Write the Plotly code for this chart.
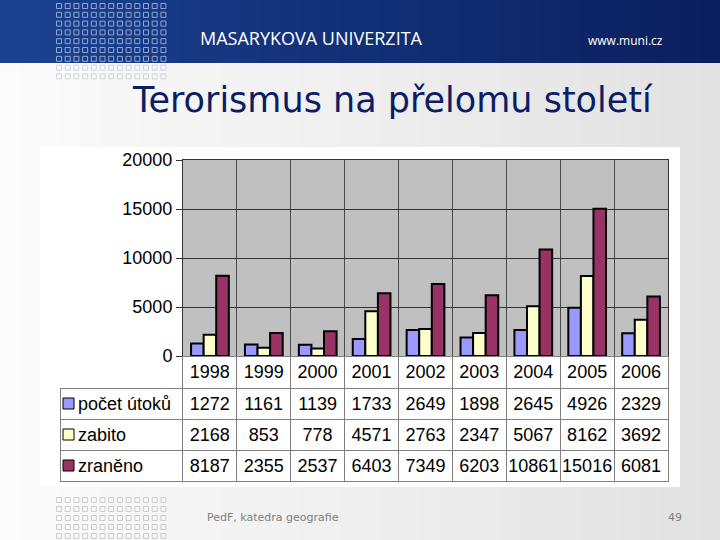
import plotly.graph_objects as go

# ---------------- data ----------------
years = ["1998", "1999", "2000", "2001", "2002", "2003", "2004", "2005", "2006"]
attacks = [1272, 1161, 1139, 1733, 2649, 1898, 2645, 4926, 2329]
killed = [2168, 853, 778, 4571, 2763, 2347, 5067, 8162, 3692]
injured = [8187, 2355, 2537, 6403, 7349, 6203, 10861, 15016, 6081]
series_names = ["počet útoků", "zabito", "zraněno"]
series_colors = ["#9999ff", "#ffffcc", "#993366"]
y_ticks = [0, 5000, 10000, 15000, 20000]
y_tick_labels = ["0", "5000", "10000", "15000", "20000"]

title_text = "Terorismus na přelomu století"
uni_text = "MASARYKOVA UNIVERZITA"
web_text = "www.muni.cz"
footer_text = "PedF, katedra geografie"
page_no = "49"

W, H = 720, 540
TABLE_TOP, HEADER_H, ROW_H = 356, 32, 31


def px(x):
    return x / W


def py(y):
    return 1 - y / H


def mix(c1, c2, t):
    a = [int(c1[i:i + 2], 16) for i in (1, 3, 5)]
    b = [int(c2[i:i + 2], 16) for i in (1, 3, 5)]
    return "#" + "".join(f"{round(a[k] + (b[k] - a[k]) * t):02x}" for k in range(3))


fig = go.Figure()

# ---------------- bars ----------------
for name, vals, col in zip(series_names, [attacks, killed, injured], series_colors):
    fig.add_trace(go.Bar(
        x=years, y=vals, name=name, showlegend=False,
        marker=dict(color=col, line=dict(color="black", width=2)),
        xaxis="x", yaxis="y", hoverinfo="x+y+name",
    ))

# ---------------- data table ----------------
labels = ["\u00a0\u00a0" + n.replace(" ", "\u00a0") for n in series_names]
cell_cols = [labels] + [[str(a), str(k), str(i)] for a, k, i in zip(attacks, killed, injured)]
table_bottom = TABLE_TOP + HEADER_H + ROW_H * len(series_names)
fig.add_trace(go.Table(
    domain=dict(x=[px(60), px(668)], y=[py(table_bottom + 2), py(TABLE_TOP)]),
    columnwidth=[123] + [54] * len(years),
    header=dict(values=[""] + years, height=HEADER_H, align="center",
                fill=dict(color=["rgba(0,0,0,0)"] + ["white"] * len(years)),
                line=dict(color=["rgba(0,0,0,0)"] + ["#808080"] * len(years), width=1),
                font=dict(family="Liberation Sans, Arial", size=18, color="black")),
    cells=dict(values=cell_cols, height=ROW_H,
               align=["left"] + ["center"] * len(years),
               fill=dict(color="white"),
               line=dict(color="#808080", width=1),
               font=dict(family="Liberation Sans, Arial", size=18, color="black")),
))

# ---------------- decorative dot pattern ----------------
dot_x = [59 + 8.7 * i for i in range(13)]
top_rows = [6 + 8.8 * j for j in range(9)]
bot_rows = [500 + 9 * j for j in range(5)]
dx, dy, dc = [], [], []
for yy in top_rows:
    for xx in dot_x:
        dx.append(xx)
        dy.append(yy)
        dc.append("#94a6d2" if yy < 63 else "#d0d4dc")
for yy in bot_rows:
    for xx in dot_x:
        dx.append(xx)
        dy.append(yy)
        dc.append("#cccccc")
fig.add_trace(go.Scatter(
    x=dx, y=dy, mode="markers", xaxis="x2", yaxis="y2", showlegend=False,
    hoverinfo="skip",
    marker=dict(symbol="square-open", size=5, color=dc, line=dict(width=1, color=dc)),
))

# ---------------- shapes (background) ----------------
shapes = []
n = 36
for i in range(n):
    shapes.append(dict(type="rect", xref="paper", yref="paper", layer="below",
                       x0=i / n, x1=(i + 1) / n + 0.002, y0=0, y1=1,
                       fillcolor=mix("#fbfbfb", "#e2e2e2", i / (n - 1)), line=dict(width=0)))
for i in range(n):
    shapes.append(dict(type="rect", xref="paper", yref="paper", layer="below",
                       x0=i / n, x1=(i + 1) / n + 0.002, y0=py(63), y1=1,
                       fillcolor=mix("#1a4190", "#0a1f5e", i / (n - 1)), line=dict(width=0)))
# white chart panel
shapes.append(dict(type="rect", xref="paper", yref="paper", layer="below",
                   x0=px(40), x1=px(680), y0=py(487), y1=py(147),
                   fillcolor="white", line=dict(width=0)))
# grey plot area
shapes.append(dict(type="rect", xref="x domain", yref="y domain", layer="below",
                   x0=0, x1=1, y0=0, y1=1, fillcolor="#c0c0c0", line=dict(width=0)))
# legend keys in the table's first column
for k, col in enumerate(series_colors):
    cy = TABLE_TOP + HEADER_H + ROW_H * k + ROW_H / 2
    shapes.append(dict(type="rect", xref="paper", yref="paper", layer="above",
                       x0=px(63), x1=px(74), y0=py(cy + 5.5), y1=py(cy - 5.5),
                       fillcolor=col, line=dict(color="black", width=1)))

# ---------------- annotations ----------------
ann = [
    dict(text=title_text, x=px(393), y=py(100), xref="paper", yref="paper",
         showarrow=False, xanchor="center", yanchor="middle",
         font=dict(family="DejaVu Sans", size=35, color="#0c1d66")),
    dict(text=uni_text, x=px(198), y=py(38), xref="paper", yref="paper",
         showarrow=False, xanchor="left", yanchor="middle",
         font=dict(family="Open Sans", size=18, color="white")),
    dict(text=web_text, x=px(665), y=py(40), xref="paper", yref="paper",
         showarrow=False, xanchor="right", yanchor="middle",
         font=dict(family="Open Sans", size=12, color="white")),
    dict(text=footer_text, x=px(205), y=py(517), xref="paper", yref="paper",
         showarrow=False, xanchor="left", yanchor="middle",
         font=dict(family="DejaVu Sans", size=11, color="#808080")),
    dict(text=page_no, x=px(684), y=py(517), xref="paper", yref="paper",
         showarrow=False, xanchor="right", yanchor="middle",
         font=dict(family="DejaVu Sans", size=11, color="#808080")),
]

fig.update_layout(
    width=W, height=H, margin=dict(l=0, r=0, t=0, b=0, pad=0, autoexpand=False),
    paper_bgcolor="#f0f0f0", plot_bgcolor="rgba(0,0,0,0)",
    barmode="group", bargap=0.3, bargroupgap=0, showlegend=False,
    shapes=shapes, annotations=ann,
    xaxis=dict(domain=[px(183), px(668)], type="category", tickson="boundaries",
               showgrid=True, gridcolor="#4a4a4a", gridwidth=1,
               showticklabels=False, ticks="", showline=True, linecolor="#333333",
               mirror=True, fixedrange=True, automargin=False),
    yaxis=dict(domain=[py(356), py(160)], range=[0, 20000],
               tickvals=y_ticks, ticktext=y_tick_labels,
               showgrid=True, gridcolor="#333333", gridwidth=1, zeroline=False,
               ticks="outside", ticklen=6, tickcolor="#333333",
               showline=True, linecolor="#333333", mirror=True,
               tickfont=dict(family="Liberation Sans, Arial", size=18, color="black"),
               fixedrange=True, automargin=False),
    xaxis2=dict(domain=[0, 1], range=[0, W], visible=False, anchor="y2",
                fixedrange=True, automargin=False),
    yaxis2=dict(domain=[0, 1], range=[H, 0], visible=False, anchor="x2",
                fixedrange=True, automargin=False),
)

fig.write_html(
    "out.html", config={"displayModeBar": False},
    post_script=("document.body.style.margin='0';"
                 "document.body.style.overflow='hidden';"),
)
